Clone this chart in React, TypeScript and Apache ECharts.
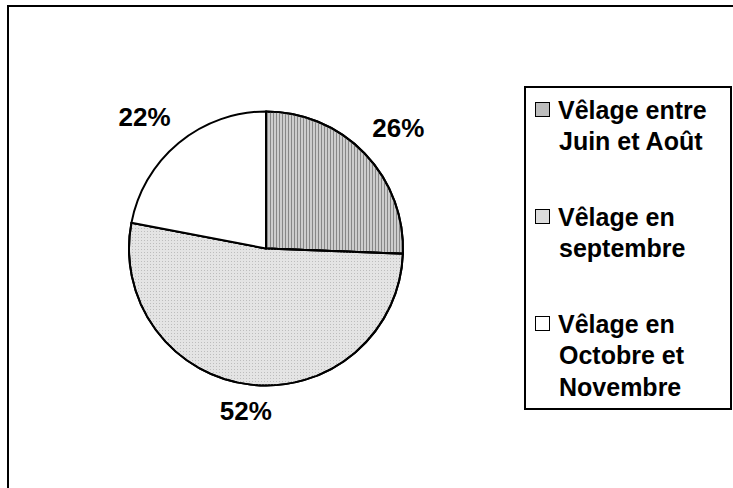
import React, { useEffect, useRef } from 'react';
import * as echarts from 'echarts';

// ---- data ----
const categories: string[] = [
  'Vêlage entre\nJuin et Août',
  'Vêlage en\nseptembre',
  'Vêlage en\nOctobre et\nNovembre',
];
const shares: number[] = [25.6, 52.4, 22.0];

// ---- styles ----
const FONT = '"Liberation Sans", Arial, Helvetica, sans-serif';
const sliceFills = ['#cdcdcd', '#e4e4e4', '#ffffff'];
const iconFills = ['#bdbdbd', '#dcdcdc', '#ffffff'];
const sliceDecals: any[] = [
  { symbol: 'rect', symbolSize: 1, dashArrayX: [1, 2], dashArrayY: [4, 0], color: '#878787', rotation: 0 },
  { symbol: 'rect', symbolSize: 1, dashArrayX: [1, 2], dashArrayY: [1, 2], color: '#bdbdbd', rotation: 0 },
  null,
];
const labelNudges: number[][] = [[3, 4], [0, -16], [-7, 7]];

export default function App() {
  const ref = useRef<HTMLDivElement>(null);

  useEffect(() => {
    document.body.style.margin = '0';
    document.body.style.overflow = 'hidden';
    if (!ref.current) return;
    const chart = echarts.init(ref.current, undefined, { renderer: 'svg' });

    const rich: any = {
      g: { width: 9 },
      p: { width: 23 },
      t: {
        fontSize: 25,
        fontWeight: 'bold',
        fontFamily: FONT,
        color: '#000',
        lineHeight: 31.5,
        verticalAlign: 'middle',
      },
    };
    iconFills.forEach((c, i) => {
      rich['b' + i] = {
        width: 13,
        height: 13,
        backgroundColor: c,
        borderColor: '#000',
        borderWidth: 1,
        verticalAlign: 'middle',
        lineHeight: 31.5,
      };
    });

    const center = [266, 248.5];

    chart.setOption({
      animation: false,
      backgroundColor: '#ffffff',
      graphic: [
        {
          type: 'rect',
          shape: { x: 8, y: 6, width: 780, height: 540 },
          style: { fill: 'none', stroke: '#000', lineWidth: 2 },
          silent: true,
        },
        {
          type: 'rect',
          shape: { x: 525, y: 87, width: 206, height: 322 },
          style: { fill: '#fff', stroke: '#000', lineWidth: 2 },
          silent: true,
          z: -1,
        },
      ],
      legend: {
        orient: 'vertical',
        left: 531,
        top: 97,
        itemGap: 50.5,
        itemWidth: 0,
        itemHeight: 0,
        icon: 'rect',
        itemStyle: { opacity: 0, borderWidth: 0 },
        selectedMode: false,
        padding: 0,
        data: categories,
        formatter: (name: string) => {
          const i = categories.indexOf(name);
          return name
            .split('\n')
            .map((line, k) => (k === 0 ? `{b${i}|}{g|}` : '{p|}') + `{t|${line}}`)
            .join('\n');
        },
        textStyle: { rich },
      },
      series: [
        {
          type: 'pie',
          center,
          radius: 137,
          startAngle: 90,
          clockwise: true,
          silent: true,
          label: { show: false },
          labelLine: { show: false },
          itemStyle: { borderColor: '#000', borderWidth: 2 },
          data: categories.map((name, i) => ({
            name,
            value: shares[i],
            itemStyle: sliceDecals[i]
              ? { color: sliceFills[i], decal: sliceDecals[i] }
              : { color: sliceFills[i] },
          })),
        },
        {
          type: 'pie',
          center,
          radius: [137, 216],
          startAngle: 90,
          clockwise: true,
          silent: true,
          percentPrecision: 0,
          itemStyle: { color: 'rgba(0,0,0,0)', borderWidth: 0 },
          label: {
            show: true,
            position: 'inside',
            rotate: 0,
            formatter: '{d}%',
            fontSize: 26,
            fontWeight: 'bold',
            fontFamily: FONT,
            color: '#000',
          },
          labelLine: { show: false },
          data: categories.map((name, i) => ({
            name,
            value: shares[i],
            label: { offset: labelNudges[i] },
          })),
        },
      ],
    });

    return () => chart.dispose();
  }, []);

  return <div ref={ref} style={{ width: 733, height: 488 }} />;
}
